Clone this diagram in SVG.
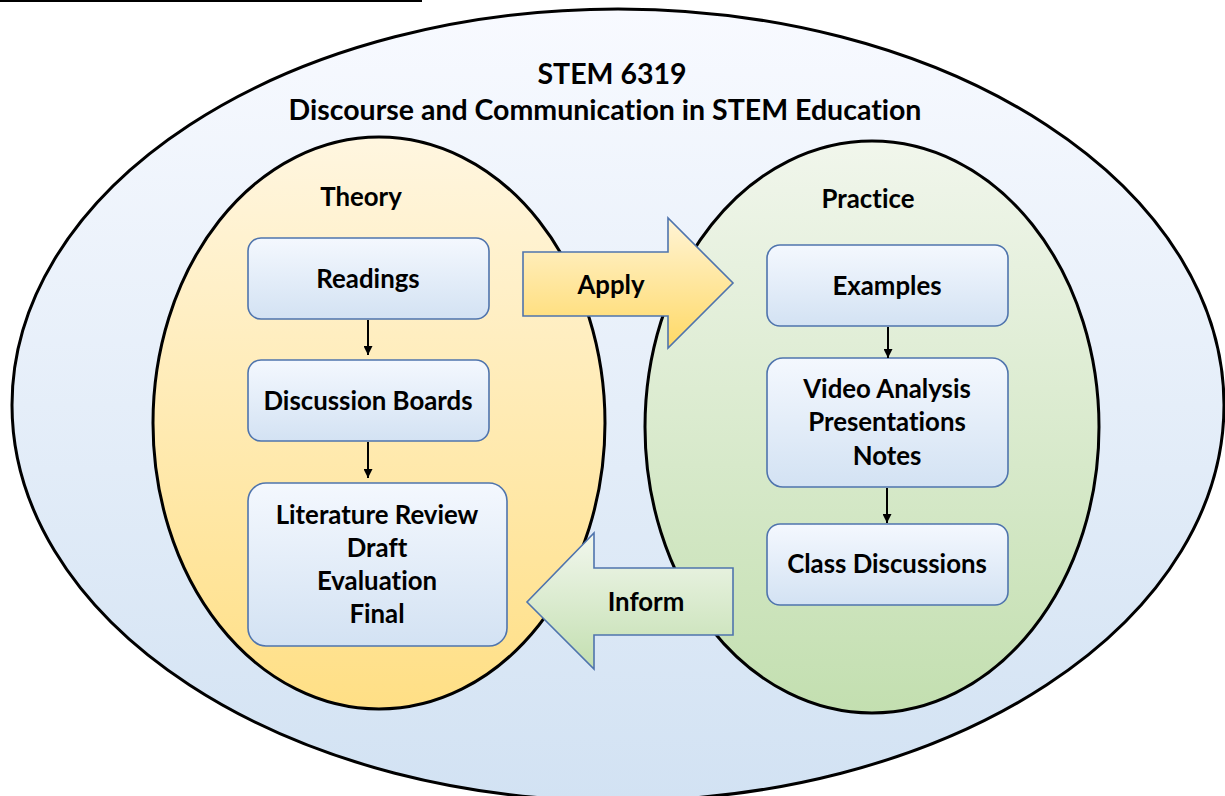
<svg xmlns="http://www.w3.org/2000/svg" width="1225" height="796" viewBox="0 0 1225 796">
  <defs>
    <linearGradient id="gOuter" x1="0" y1="0" x2="0" y2="1">
      <stop offset="0" stop-color="#f8faff"/>
      <stop offset="1" stop-color="#d2e2f3"/>
    </linearGradient>
    <linearGradient id="gTheory" x1="0" y1="0" x2="0" y2="1">
      <stop offset="0" stop-color="#fff6e0"/>
      <stop offset="1" stop-color="#ffdf85"/>
    </linearGradient>
    <linearGradient id="gPractice" x1="0" y1="0" x2="0" y2="1">
      <stop offset="0" stop-color="#f1f6ec"/>
      <stop offset="1" stop-color="#c3dfb0"/>
    </linearGradient>
    <linearGradient id="gBox" x1="0" y1="0" x2="0" y2="1">
      <stop offset="0" stop-color="#f4f8fe"/>
      <stop offset="1" stop-color="#d3e2f3"/>
    </linearGradient>
    <linearGradient id="gApply" x1="0" y1="0" x2="0" y2="1">
      <stop offset="0" stop-color="#fff4d6"/>
      <stop offset="1" stop-color="#ffd966"/>
    </linearGradient>
    <linearGradient id="gInform" x1="0" y1="0" x2="0" y2="1">
      <stop offset="0" stop-color="#f2f7ee"/>
      <stop offset="1" stop-color="#c3dfb0"/>
    </linearGradient>
    <marker id="head" viewBox="0 0 10 10" refX="10" refY="5" markerWidth="9" markerHeight="9" markerUnits="userSpaceOnUse" orient="auto">
      <path d="M0,0 L10,5 L0,10 Z" fill="#000"/>
    </marker>
  </defs>
  <style>
    .ring { stroke: #000; stroke-width: 3; }
    .box { fill: url(#gBox); stroke: #4f74ad; stroke-width: 1.6; }
    .block { stroke: #4f74ad; stroke-width: 1.6; }
    .t { font-family: Lato, "Liberation Sans", sans-serif; font-weight: bold; fill: #000; text-anchor: middle; font-variant-ligatures: none; }
    .big { font-size: 28.5px; }
    .lbl { font-size: 25.8px; }
    .link { stroke: #000; stroke-width: 2; fill: none; marker-end: url(#head); }
  </style>

  <!-- rule at the top edge -->
  <line x1="0" y1="1" x2="422" y2="1" stroke="#000" stroke-width="2"/>

  <!-- course container -->
  <g id="course">
    <ellipse class="ring" cx="618" cy="405" rx="606" ry="396" fill="url(#gOuter)"/>
    <text class="t big" x="612" y="84">STEM 6319</text>
    <text class="t big" x="605" y="120">Discourse and Communication in STEM Education</text>
  </g>

  <!-- theory side -->
  <g id="theory">
    <ellipse class="ring" cx="379" cy="423" rx="226" ry="286" fill="url(#gTheory)"/>
    <text class="t lbl" x="361" y="206">Theory</text>
  </g>

  <!-- practice side -->
  <g id="practice">
    <ellipse class="ring" cx="872" cy="427" rx="227" ry="286" fill="url(#gPractice)"/>
    <text class="t lbl" x="868" y="208">Practice</text>
  </g>

  <g id="readings">
    <rect class="box" x="248" y="238" width="241" height="81" rx="13"/>
    <text class="t lbl" x="368" y="288">Readings</text>
  </g>
  <g id="discussion-boards">
    <rect class="box" x="248" y="360" width="241" height="81" rx="13"/>
    <text class="t lbl" x="368" y="410">Discussion Boards</text>
  </g>
  <g id="literature-review">
    <rect class="box" x="248" y="483" width="259" height="163" rx="18"/>
    <text class="t lbl" x="377" y="524">Literature Review</text>
    <text class="t lbl" x="377" y="557">Draft</text>
    <text class="t lbl" x="377" y="590">Evaluation</text>
    <text class="t lbl" x="377" y="623">Final</text>
  </g>

  <g id="examples">
    <rect class="box" x="767" y="245" width="241" height="81" rx="13"/>
    <text class="t lbl" x="887" y="295">Examples</text>
  </g>
  <g id="video-analysis">
    <rect class="box" x="767" y="358" width="241" height="129" rx="16"/>
    <text class="t lbl" x="887" y="398">Video Analysis</text>
    <text class="t lbl" x="887" y="431">Presentations</text>
    <text class="t lbl" x="887" y="465">Notes</text>
  </g>
  <g id="class-discussions">
    <rect class="box" x="767" y="524" width="241" height="81" rx="13"/>
    <text class="t lbl" x="887" y="573">Class Discussions</text>
  </g>

  <!-- flow between steps -->
  <g id="connectors">
    <line class="link" x1="368" y1="320" x2="368" y2="355"/>
    <line class="link" x1="368" y1="442" x2="368" y2="478"/>
    <line class="link" x1="888" y1="327" x2="888" y2="358"/>
    <line class="link" x1="887" y1="488" x2="887" y2="523"/>
  </g>

  <g id="apply">
    <path class="block" fill="url(#gApply)" d="M523,252 L668,252 L668,218 L733,283 L668,348 L668,316 L523,316 Z"/>
    <text class="t lbl" x="611" y="294">Apply</text>
  </g>
  <g id="inform">
    <path class="block" fill="url(#gInform)" d="M733,568 L594,568 L594,533 L527,602 L594,669 L594,635 L733,635 Z"/>
    <text class="t lbl" x="646" y="611">Inform</text>
  </g>
</svg>
